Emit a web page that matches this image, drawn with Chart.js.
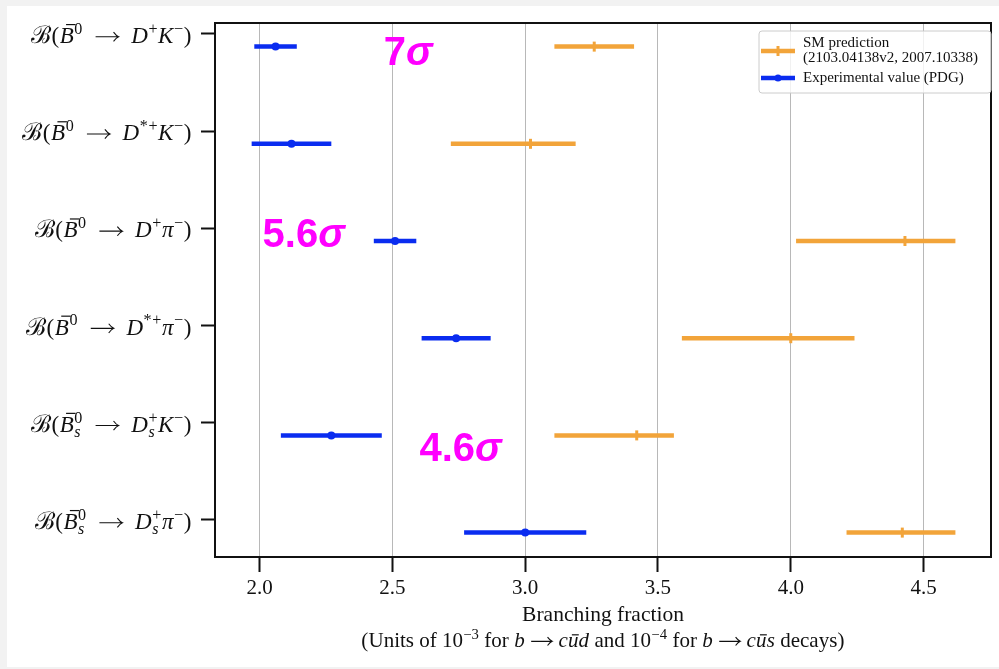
<!DOCTYPE html>
<html>
<head>
<meta charset="utf-8">
<script src="https://cdn.jsdelivr.net/npm/chart.js@4.4.1/dist/chart.umd.min.js"></script>
<style>
  body { margin: 0; background: #f2f2f2; }
  #wrap { position: absolute; left: 7px; top: 6px; width: 992px; height: 661px; background: #fff; }
</style>
</head>
<body>
<div id="wrap"><canvas id="myChart"></canvas></div>
<script>
// decays, top to bottom ([..] = roman text, ~X = bar over X, @ = script B, > = arrow)
const categories = [
  '@(~B^{0} > D^{+}K^{-})',
  '@(~B^{0} > D^{*+}K^{-})',
  '@(~B^{0} > D^{+}π^{-})',
  '@(~B^{0} > D^{*+}π^{-})',
  '@(~B_{s}^{0} > D_{s}^{+}K^{-})',
  '@(~B_{s}^{0} > D_{s}^{+}π^{-})'
];

// experimental value (PDG)
const expValue = [2.06, 2.12, 2.51, 2.74, 2.27, 3.00];
const expLow   = [1.98, 1.97, 2.43, 2.61, 2.08, 2.77];
const expHigh  = [2.14, 2.27, 2.59, 2.87, 2.46, 3.23];

// SM prediction
const smValue = [3.26, 3.02, 4.43, 4.00, 3.42, 4.42];
const smLow   = [3.11, 2.72, 4.02, 3.59, 3.11, 4.21];
const smHigh  = [3.41, 3.19, 4.62, 4.24, 3.56, 4.62];

const xTicks = [2.0, 2.5, 3.0, 3.5, 4.0, 4.5];

const smLabel = ['SM prediction', '(2103.04138v2, 2007.10338)'];
const expLabel = 'Experimental value (PDG)';
const xTitle1 = 'Branching fraction';
const xTitle2 = '([Units of 10]^{-3}[ for ]b>c~ud[ and 10]^{-4}[ for ]b>c~us[ decays])';

// significance labels, anchored in data units
const sigmaNotes = [
  {num: '7',   x: 2.467, y: 0.32},
  {num: '5.6', x: 2.011, y: 2.19},
  {num: '4.6', x: 2.602, y: 4.39}
];

const rowOffset = 0.13;
const ORANGE = '#f2a43a';
const BLUE = '#0a2cf0';

// --- tiny rich text for the math-ish labels ---
function styleOf(ch) { return /[A-Za-zπ]/.test(ch) ? 'it' : 'rm'; }
function fontOf(style, sz) {
  if (style === 'cal') return sz + 'px "DejaVu Serif", serif';
  return (style === 'it' ? 'italic ' : '') + sz + 'px "Liberation Serif", serif';
}
function buildRich(ctx, src, size, track) {
  const out = [];
  let x = 0, i = 0, prev = null;
  const add = (text, style, sz, dy, bar) => {
    ctx.font = fontOf(style, sz);
    const w = ctx.measureText(text).width + (track || 0);
    out.push({text, style, sz, x, dy, bar, w});
    x += w;
  };
  while (i < src.length) {
    const c = src[i];
    if (c === '[') {
      const j = src.indexOf(']', i);
      add(src.slice(i + 1, j), 'rm', size, 0);
      i = j + 1; prev = null; continue;
    }
    if (c === '^' || c === '_') {
      const j = src.indexOf('}', i);
      const body = src.slice(i + 2, j);
      const sz = size * 0.7, dy = c === '^' ? -size * 0.4 : size * 0.24;
      let start = x;
      if (prev && prev.type !== c && prev.end === x) start = prev.start;
      const saveX = x;
      x = start;
      for (const ch of body) add(ch === '-' ? '−' : ch, styleOf(ch), sz, dy);
      const end = Math.max(x, saveX);
      prev = {type: c, start, end};
      x = end; i = j + 1; continue;
    }
    prev = null;
    if (c === '~') { add(src[i + 1], styleOf(src[i + 1]), size, 0, true); i += 2; continue; }
    if (c === '@') { add('ℬ', 'cal', size * 1.05, 0); i++; continue; }
    if (c === '>') {
      x += size * 0.3;
      out.push({arrow: true, x, w: size * 1.0, sz: size});
      x += size * 1.0 + size * 0.3;
      i++; continue;
    }
    if (c === ' ') { x += size * 0.25; i++; continue; }
    add(c, styleOf(c), size, 0);
    i++;
  }
  return {items: out, width: x, size};
}
function drawRich(ctx, rich, x0, y) {
  ctx.textAlign = 'left';
  ctx.textBaseline = 'alphabetic';
  for (const it of rich.items) {
    if (it.arrow) {
      const ay = y - it.sz * 0.27, ax = x0 + it.x, h = it.sz * 0.2;
      ctx.save();
      ctx.lineWidth = 1.1;
      ctx.beginPath();
      ctx.moveTo(ax, ay);
      ctx.lineTo(ax + it.w, ay);
      ctx.moveTo(ax + it.w - h * 1.1, ay - h);
      ctx.quadraticCurveTo(ax + it.w - h * 0.5, ay - h * 0.2, ax + it.w, ay);
      ctx.quadraticCurveTo(ax + it.w - h * 0.5, ay + h * 0.2, ax + it.w - h * 1.1, ay + h);
      ctx.stroke();
      ctx.restore();
      continue;
    }
    ctx.font = fontOf(it.style, it.sz);
    ctx.fillText(it.text, x0 + it.x, y + it.dy);
    if (it.bar) {
      const upper = it.text === it.text.toUpperCase();
      const h = upper ? it.sz * 0.8 : it.sz * 0.58;
      const shift = upper ? it.sz * 0.12 : it.sz * 0.06;
      ctx.save();
      ctx.lineWidth = 1.2;
      ctx.beginPath();
      ctx.moveTo(x0 + it.x + it.w * 0.25 + shift, y - h);
      ctx.lineTo(x0 + it.x + it.w * 0.9 + shift, y - h);
      ctx.stroke();
      ctx.restore();
    }
  }
}

const decor = {
  id: 'decor',
  beforeDatasetsDraw(chart) {
    const {ctx, scales: {x, y}} = chart;
    ctx.save();
    ctx.lineWidth = 4.5;
    ctx.lineCap = 'butt';
    const bars = [[expLow, expHigh, BLUE], [smLow, smHigh, ORANGE]];
    for (const [lo, hi, col] of bars) {
      ctx.strokeStyle = col;
      for (let i = 0; i < lo.length; i++) {
        const py = y.getPixelForValue(i + rowOffset);
        ctx.beginPath();
        ctx.moveTo(x.getPixelForValue(lo[i]), py);
        ctx.lineTo(x.getPixelForValue(hi[i]), py);
        ctx.stroke();
      }
    }
    ctx.restore();
  },
  afterDraw(chart) {
    const {ctx, chartArea: a, scales: {x, y}} = chart;
    ctx.save();
    // frame
    ctx.strokeStyle = '#111';
    ctx.lineWidth = 2;
    ctx.strokeRect(a.left, a.top, a.right - a.left, a.bottom - a.top);

    // y labels
    ctx.fillStyle = '#111';
    ctx.strokeStyle = '#111';
    categories.forEach((c, i) => {
      const r = buildRich(ctx, c, 23, 0.6);
      drawRich(ctx, r, a.left - 23 - r.width, y.getPixelForValue(i) + 9);
    });

    // x title
    ctx.font = '21.5px "Liberation Serif", serif';
    ctx.textAlign = 'center';
    ctx.textBaseline = 'alphabetic';
    const cx = (a.left + a.right) / 2;
    ctx.fillText(xTitle1, cx, a.bottom + 64);
    const r2 = buildRich(ctx, xTitle2, 21, 0.15);
    drawRich(ctx, r2, cx - r2.width / 2, a.bottom + 90);

    // sigma notes
    ctx.fillStyle = '#ff00ff';
    for (const n of sigmaNotes) {
      const px = x.getPixelForValue(n.x), py = y.getPixelForValue(n.y);
      ctx.font = 'bold 40px "Liberation Sans", Arial, sans-serif';
      ctx.textAlign = 'left';
      ctx.fillText(n.num, px, py);
      const w = ctx.measureText(n.num).width;
      ctx.font = 'italic bold 40px "Liberation Sans", Arial, sans-serif';
      ctx.fillText('σ', px + w, py);
    }

    // legend
    const lx = 752, ly = 25, lw = 232, lh = 62;
    ctx.fillStyle = 'rgba(255,255,255,0.8)';
    ctx.strokeStyle = '#cccccc';
    ctx.lineWidth = 1;
    ctx.beginPath();
    ctx.roundRect(lx, ly, lw, lh, 3);
    ctx.fill();
    ctx.stroke();
    const entry = (yy, col, dot) => {
      ctx.strokeStyle = col;
      ctx.lineWidth = 4.5;
      ctx.beginPath();
      ctx.moveTo(lx + 2, yy);
      ctx.lineTo(lx + 36, yy);
      ctx.stroke();
      ctx.fillStyle = col;
      if (dot) {
        ctx.beginPath();
        ctx.arc(lx + 19, yy, 3.5, 0, Math.PI * 2);
        ctx.fill();
      } else {
        ctx.lineWidth = 3;
        ctx.beginPath();
        ctx.moveTo(lx + 19, yy - 5);
        ctx.lineTo(lx + 19, yy + 5);
        ctx.stroke();
      }
    };
    entry(ly + 20, ORANGE, false);
    entry(ly + 47, BLUE, true);
    ctx.fillStyle = '#111';
    ctx.font = '15px "Liberation Serif", serif';
    ctx.textAlign = 'left';
    ctx.textBaseline = 'middle';
    ctx.fillText(smLabel[0], lx + 44, ly + 12);
    ctx.fillText(smLabel[1], lx + 44, ly + 27);
    ctx.fillText(expLabel, lx + 44, ly + 47);
    ctx.restore();
  }
};

const ctx = document.getElementById('myChart');

new Chart(ctx, {
  type: 'scatter',
  data: {
    datasets: [
      {
        label: smLabel.join(' '),
        data: smValue.map((v, i) => ({x: v, y: i + rowOffset})),
        pointStyle: 'line',
        rotation: 90,
        radius: 5,
        borderWidth: 3,
        borderColor: ORANGE,
        backgroundColor: ORANGE
      },
      {
        label: expLabel,
        data: expValue.map((v, i) => ({x: v, y: i + rowOffset})),
        pointStyle: 'circle',
        radius: 4,
        borderWidth: 0,
        borderColor: BLUE,
        backgroundColor: BLUE
      }
    ]
  },
  options: {
    responsive: true,
    maintainAspectRatio: false,
    animation: false,
    devicePixelRatio: 1,
    layout: { padding: { top: 17, right: 2, left: 0, bottom: 0 } },
    plugins: {
      legend: { display: false },
      tooltip: { enabled: false }
    },
    scales: {
      x: {
        type: 'linear',
        min: 1.832,
        max: 4.754,
        afterBuildTicks: (s) => { s.ticks = xTicks.map(v => ({value: v})); },
        afterFit: (s) => { s.height = 110; },
        border: { display: false },
        grid: {
          color: '#b8b8b8',
          lineWidth: 1,
          drawTicks: true,
          tickLength: 15,
          tickColor: '#111',
          tickWidth: 2
        },
        ticks: {
          color: '#111',
          padding: 4,
          font: { family: '"Liberation Serif", serif', size: 21 },
          callback: (v) => Number(v).toFixed(1)
        }
      },
      y: {
        type: 'linear',
        reverse: true,
        min: -0.113,
        max: 5.381,
        afterBuildTicks: (s) => { s.ticks = categories.map((c, i) => ({value: i})); },
        afterFit: (s) => { s.width = 208; },
        border: { display: false },
        grid: {
          drawOnChartArea: false,
          drawTicks: true,
          tickLength: 14,
          tickColor: '#111',
          tickWidth: 2
        },
        ticks: { callback: () => '' }
      }
    }
  },
  plugins: [decor]
});
</script>
</body>
</html>
